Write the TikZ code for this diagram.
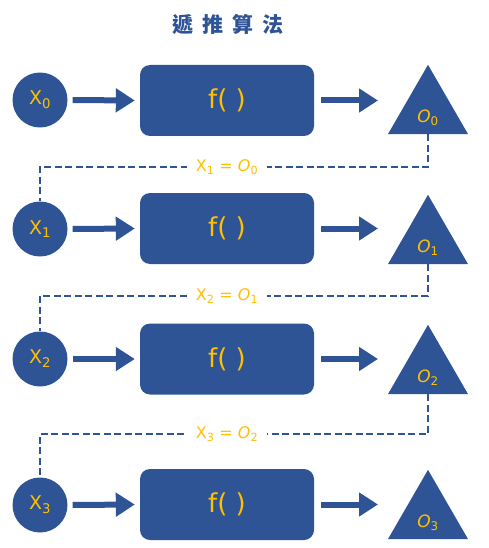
\documentclass[tikz,border=0pt]{standalone}
\usepackage{fontspec}
\setmainfont{DejaVu Sans}
\newfontfamily\cjk{Noto Sans CJK TC}
\usetikzlibrary{arrows.meta,shapes.geometric}
\definecolor{nodeblue}{HTML}{2E5496}
\definecolor{txtyellow}{HTML}{FFC000}
\newcommand{\xs}[1]{X\textsubscript{#1}}
\newcommand{\os}[1]{\textit{O}\textsubscript{#1}}

\begin{document}
\begin{tikzpicture}[x=1pt,y=-1pt]
\tikzset{every node/.append style={inner sep=0pt, text=txtyellow}}
\tikzset{invar/.style={circle, fill=nodeblue, minimum size=55pt, font=\fontsize{19}{19}\selectfont}}
\tikzset{func/.style={rectangle, rounded corners=10pt, fill=nodeblue, minimum width=174pt, minimum height=71pt, font=\fontsize{26}{26}\selectfont}}
\tikzset{outvar/.style={regular polygon, regular polygon sides=3, fill=nodeblue, minimum size=92.4pt}}
\tikzset{outlbl/.style={font=\fontsize{17}{17}\selectfont}}
\tikzset{fat/.style={nodeblue, line width=6pt, -{Triangle[length=19pt,width=23pt]}}}
\tikzset{link/.style={nodeblue, line width=2.2pt, dash pattern=on 7pt off 3.5pt}}
\tikzset{eq/.style={fill=white, inner xsep=9pt, inner ysep=2pt, font=\fontsize{16}{16}\selectfont}}
\useasboundingbox (0,0) rectangle (488,548);
\node [text=nodeblue, font=\cjk\bfseries\fontsize{21}{21}\selectfont] (title) at (228,24) {遞\hspace{9pt}推\hspace{9pt}算\hspace{9pt}法};
% row 0
\node [invar] (x0) at (40,100) {\xs{0}};
\node [func] (f0) at (227,100.5) {f( )};
\node [outvar] (o0) at (428,111) {};
\node [outlbl] (l0) at (428,118) {\os{0}};
\draw [fat, shorten <=5pt, shorten >=5pt] (x0.east) -- (f0.west);
\draw [fat, shorten <=7pt, shorten >=50pt] (f0.east) -- (f0.east -| o0.center);
% row 1
\node [invar] (x1) at (40,229) {\xs{1}};
\node [func] (f1) at (227,228.5) {f( )};
\node [outvar] (o1) at (428,241) {};
\node [outlbl] (l1) at (428,248) {\os{1}};
\draw [fat, shorten <=5pt, shorten >=5pt] (x1.east) -- (f1.west);
\draw [fat, shorten <=7pt, shorten >=50pt] (f1.east) -- (f1.east -| o1.center);
% row 2
\node [invar] (x2) at (40,359) {\xs{2}};
\node [func] (f2) at (227,359) {f( )};
\node [outvar] (o2) at (428,371) {};
\node [outlbl] (l2) at (428,378) {\os{2}};
\draw [fat, shorten <=5pt, shorten >=5pt] (x2.east) -- (f2.west);
\draw [fat, shorten <=7pt, shorten >=50pt] (f2.east) -- (f2.east -| o2.center);
% row 3
\node [invar] (x3) at (40,505) {\xs{3}};
\node [func] (f3) at (227,504.5) {f( )};
\node [outvar] (o3) at (428,516) {};
\node [outlbl] (l3) at (428,523) {\os{3}};
\draw [fat, shorten <=5pt, shorten >=5pt] (x3.east) -- (f3.west);
\draw [fat, shorten <=7pt, shorten >=50pt] (f3.east) -- (f3.east -| o3.center);
% feedback lines
\coordinate (m1) at (227,167);
\coordinate (m2) at (227,296);
\coordinate (m3) at (227,434);
\draw [link] (o0.south) |- (m1) -| (x1.north);
\draw [link] (o1.south) |- (m2) -| (x2.north);
\draw [link] (o2.south) |- (m3) -| (x3.north);
\node [eq] (e1) at (m1) {\xs{1} = \os{0}};
\node [eq] (e2) at (m2) {\xs{2} = \os{1}};
\node [eq] (e3) at (m3) {\xs{3} = \os{2}};
\end{tikzpicture}
\end{document}
